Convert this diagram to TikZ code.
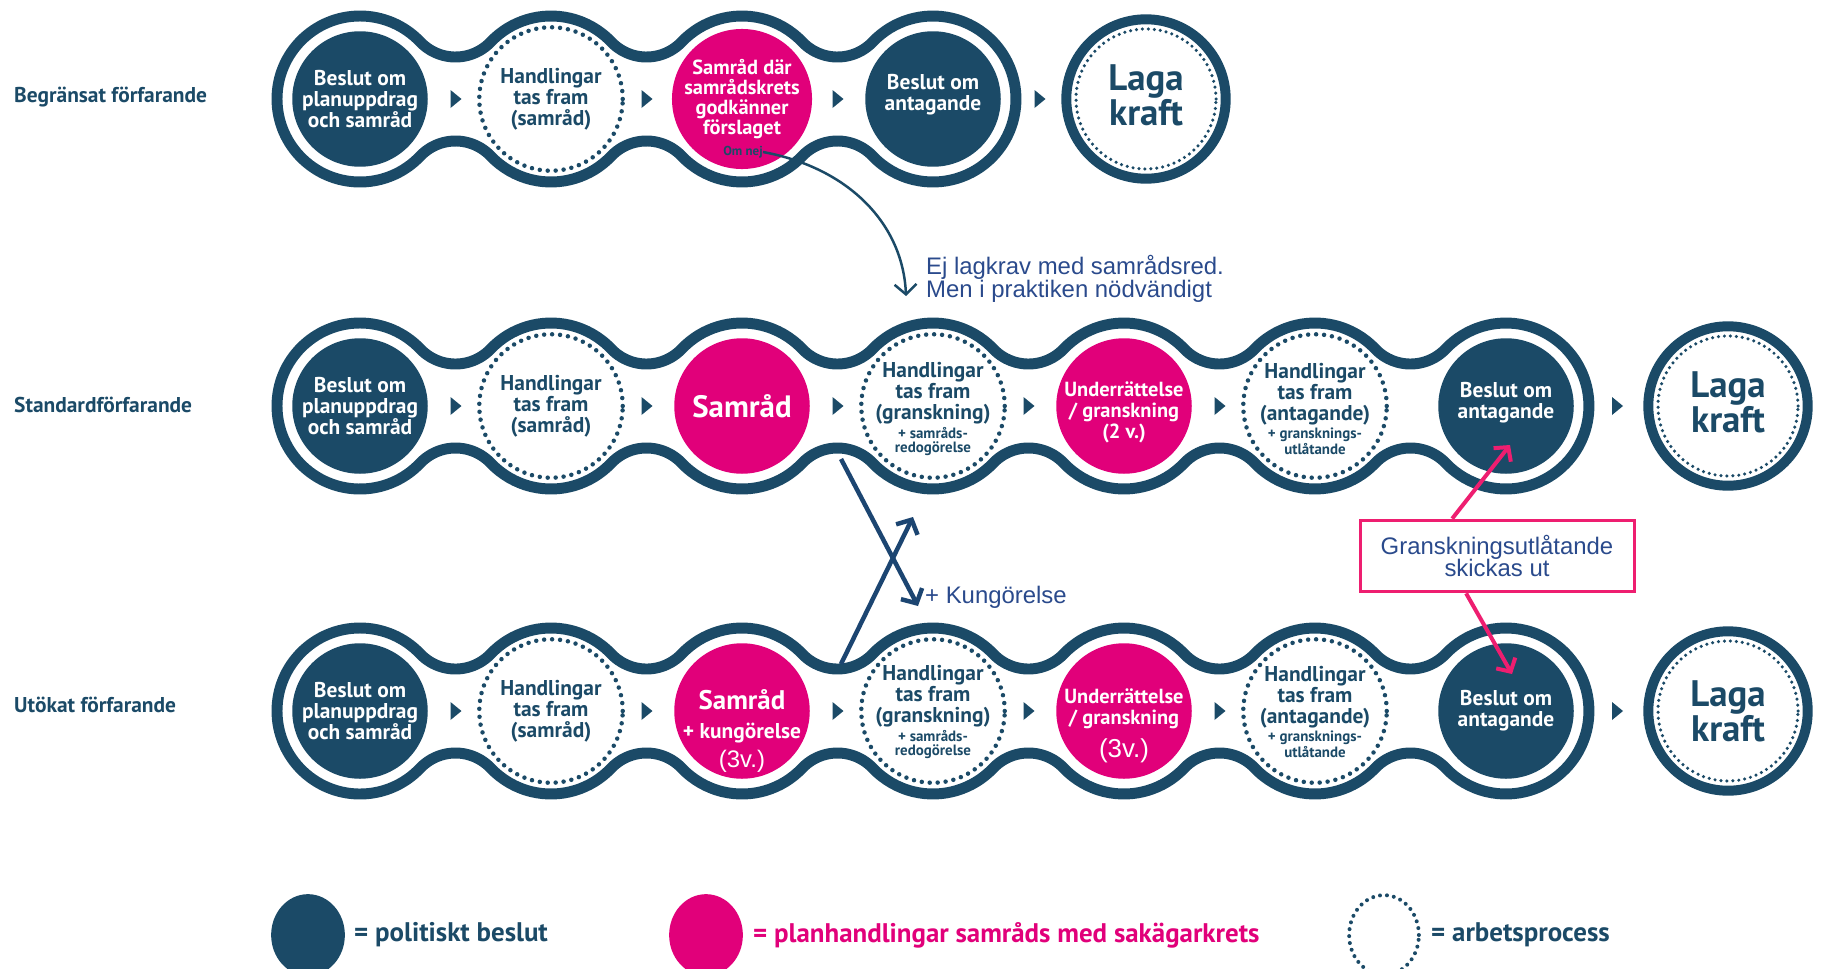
\documentclass[tikz,border=0pt]{standalone}
\usepackage{fontspec}
\setmainfont{PT Sans}
\newfontfamily\arialf{Liberation Sans}
\usetikzlibrary{arrows.meta,shapes.geometric}
\definecolor{darkc}{HTML}{1B4A67}
\definecolor{pinkc}{HTML}{E1007A}
\definecolor{apink}{HTML}{EE1E70}
\definecolor{annob}{HTML}{2A4A8C}
\definecolor{crossb}{HTML}{1C4571}
\newcommand{\fs}[2]{\fontsize{#1}{#2}\selectfont}
\newcommand{\tri}[2]{\fill[darkc] (#1-5,#2+9) -- (#1+6,#2) -- (#1-5,#2-9) -- cycle;}
\newcommand{\chainrow}[3]{%
  \draw[chainline] (#1-\RR,#2) arc[start angle=180,end angle=\th,radius=\RR]
    \foreach \k in {2,...,#3}{ arc[start angle=-180+\th,end angle=-\th,radius=\rf] arc[start angle=180-\th,end angle=\th,radius=\RR] }
    arc[start angle=\th,end angle=-\th,radius=\RR]
    \foreach \k in {2,...,#3}{ arc[start angle=-\th,end angle=-180+\th,radius=\RR] arc[start angle=\th,end angle=180-\th,radius=\rf] }
    arc[start angle=-\th,end angle=-180,radius=\RR] -- cycle;}
\begin{document}
\begin{tikzpicture}[x=1bp,y=1bp,
  chainline/.style={draw=darkc, line width=11},
  dnode/.style={circle, fill=darkc, minimum size=136, inner sep=0, text=white, align=center, font=\bfseries\fs{21.5}{21}},
  pnode/.style={dnode, fill=pinkc},
  wnode/.style={circle, draw=darkc, line width=4.5, dash pattern=on 0pt off 8pt, line cap=round, minimum size=144, inner sep=0, text=darkc, align=center, font=\bfseries\fs{21.5}{21}},
  laganode/.style={circle, draw=darkc, line width=10, minimum size=160, inner sep=0, text=darkc, align=center, font=\bfseries\fs{37}{35}},
  lagadots/.style={draw=darkc, line width=3.5, dash pattern=on 0pt off 6pt, line cap=round},
  small/.style={},
  txt/.style={inner sep=0, align=center},
  rowlabel/.style={anchor=west, inner sep=0, text=darkc, font=\bfseries\fs{21.5}{23}},
  anno/.style={inner sep=0, text=annob, font=\arialf\fs{24}{23}, align=left},
  omarrow/.style={draw=darkc, line width=2.5, -{Straight Barb[length=10pt,width=22pt]}},
  crossarr/.style={draw=crossb, line width=4.5, -{Straight Barb[length=11pt,width=24pt]}},
  pinkarr/.style={draw=apink, line width=4, -{Straight Barb[length=10pt,width=22pt]}},
  gboxst/.style={draw=apink, line width=3, fill=white, minimum width=275, minimum height=72, inner sep=0, align=center, text=annob, font=\arialf\fs{24}{23}},
  legtext/.style={anchor=west, inner sep=0, font=\bfseries\fs{27}{29}},
]
\fill[white] (0,0) rectangle (1821,-968);
\useasboundingbox (0,0) rectangle (1821,-968);
\pgfmathsetmacro\RR{83}
\pgfmathsetmacro\dd{191}
\pgfmathsetmacro\hh{42}
\pgfmathsetmacro\rf{((\dd/2)^2+\hh^2-\RR^2)/(2*(\RR-\hh))}
\pgfmathsetmacro\th{atan2(\hh+\rf,\dd/2)}

% row labels
\node[rowlabel] (lab1) at (14,-97) {Begränsat förfarande};
\node[rowlabel] (lab2) at (14,-405) {Standardförfarande};
\node[rowlabel] (lab3) at (14,-705) {Utökat förfarande};

% ---------- row 1
\chainrow{360}{-99}{4}
\node[dnode] (r1a) at (360,-99) {Beslut om\\planuppdrag\\och samråd};
\node[wnode] (r1b) at (551,-99) {Handlingar\\tas fram\\(samråd)};
\node[pnode, font=\bfseries\fs{20.5}{20}] (r1c) at (742,-99) {Samråd där\\samrådskrets\\godkänner\\förslaget};
\node[txt, text=darkc, font=\bfseries\fs{13}{14}] (omnej) at (743,-152) {Om nej};
\node[dnode] (r1d) at (933,-99) {};
\node[txt, text=white, font=\bfseries\fs{21.5}{21}] (t1d) at (933,-95) {Beslut om\\antagande};
\node[laganode] (r1e) at (1146,-99) {};
\node[txt, text=darkc, font=\bfseries\fs{37}{35}] (t1e) at (1146,-95) {Laga\\kraft};
\draw[lagadots] (r1e) circle[radius=70];
\tri{455.5}{-99}\tri{646.5}{-99}\tri{837.5}{-99}\tri{1039.5}{-99}

% ---------- row 2
\chainrow{360}{-406}{7}
\node[dnode] (r2a) at (360,-406) {Beslut om\\planuppdrag\\och samråd};
\node[wnode] (r2b) at (551,-406) {Handlingar\\tas fram\\(samråd)};
\node[pnode, font=\bfseries\fs{31}{32}] (r2c) at (742,-406) {Samråd};
\node[wnode] (r2d) at (933,-406) {};
\node[txt, text=darkc, font=\bfseries\fs{21.5}{21}] (t2d) at (933,-409) {Handlingar\\tas fram\\(granskning)\\[-2pt]{\fs{15}{15}+ samråds-}\\[-7pt]{\fs{15}{15}redogörelse}};
\node[pnode] (r2e) at (1124,-406) {};
\node[txt, text=white, font=\bfseries\fs{20.5}{21}] (t2e) at (1124,-412) {Underrättelse\\/ granskning\\(2 v.)};
\node[wnode] (r2f) at (1315,-406) {};
\node[txt, text=darkc, font=\bfseries\fs{21.5}{21}] (t2f) at (1315,-409) {Handlingar\\tas fram\\(antagande)\\[-2pt]{\fs{15}{15}+ gransknings-}\\[-5pt]{\fs{15}{15}utlåtande}};
\node[dnode] (r2g) at (1506,-406) {};
\node[txt, text=white, font=\bfseries\fs{21.5}{21}] (t2g) at (1506,-403) {Beslut om\\antagande};
\node[laganode] (r2h) at (1728,-406) {};
\node[txt, text=darkc, font=\bfseries\fs{37}{35}] (t2h) at (1728,-402) {Laga\\kraft};
\draw[lagadots] (r2h) circle[radius=70];
\tri{455.5}{-406}\tri{646.5}{-406}\tri{837.5}{-406}\tri{1028.5}{-406}\tri{1219.5}{-406}\tri{1617}{-406}

% ---------- row 3
\chainrow{360}{-711}{7}
\node[dnode] (r3a) at (360,-711) {Beslut om\\planuppdrag\\och samråd};
\node[wnode] (r3b) at (551,-711) {Handlingar\\tas fram\\(samråd)};
\node[pnode] (r3c) at (742,-711) {};
\node[txt, text=white, font=\bfseries\fs{20}{29}] (t3c) at (742,-731) {{\fs{27}{29}Samråd}\\{\fs{21.5}{22}+ kungörelse}\\{\arialf\mdseries\fs{24}{24}(3v.)}};
\node[wnode] (r3d) at (933,-711) {};
\node[txt, text=darkc, font=\bfseries\fs{21.5}{21}] (t3d) at (933,-712) {Handlingar\\tas fram\\(granskning)\\[-2pt]{\fs{15}{15}+ samråds-}\\[-7pt]{\fs{15}{15}redogörelse}};
\node[pnode] (r3e) at (1124,-711) {};
\node[txt, text=white, font=\bfseries\fs{20.5}{21}] (t3e) at (1124,-726) {Underrättelse\\/ granskning\\[9pt]{\arialf\mdseries\fs{26}{26}(3v.)}};
\node[wnode] (r3f) at (1315,-711) {};
\node[txt, text=darkc, font=\bfseries\fs{21.5}{21}] (t3f) at (1315,-712) {Handlingar\\tas fram\\(antagande)\\[-2pt]{\fs{15}{15}+ gransknings-}\\[-5pt]{\fs{15}{15}utlåtande}};
\node[dnode] (r3g) at (1506,-711) {Beslut om\\antagande};
\node[laganode] (r3h) at (1728,-711) {Laga\\kraft};
\draw[lagadots] (r3h) circle[radius=70];
\tri{455.5}{-711}\tri{646.5}{-711}\tri{837.5}{-711}\tri{1028.5}{-711}\tri{1219.5}{-711}\tri{1617}{-711}

% ---------- annotations
\coordinate (ejtip) at (906,-296);
\draw[omarrow] (omnej.east) .. controls (850,-168) and (903,-225) .. (ejtip);
\node[anno, anchor=west] (ejtxt) at (926,-279) {Ej lagkrav med samrådsred.\\Men i praktiken nödvändigt};

\coordinate (ca1) at (841,-459);
\coordinate (ca2) at (918,-606);
\coordinate (cb1) at (841,-664);
\coordinate (cb2) at (913,-517);
\draw[crossarr] (ca1) -- (ca2);
\draw[crossarr] (cb1) -- (cb2);
\node[anno, anchor=west] (kung) at (925,-597) {+ Kungörelse};

\node[gboxst] (gbox) at (1497,-556) {Granskningsutlåtande\\skickas ut};
\coordinate (pu) at (1510,-445);
\coordinate (pd) at (1512,-674);
\draw[pinkarr] ([xshift=-45]gbox.north) -- (pu);
\draw[pinkarr] ([xshift=-31]gbox.south) -- (pd);

% ---------- legend
\node[ellipse, fill=darkc, minimum width=74, minimum height=82, inner sep=0] (lg1) at (308,-935) {};
\node[legtext, text=darkc] (lt1) at (354,-935) {= politiskt beslut};
\node[ellipse, fill=pinkc, minimum width=74, minimum height=82, inner sep=0] (lg2) at (706,-935) {};
\node[legtext, text=pinkc] (lt2) at (753,-935) {= planhandlingar samråds med sakägarkrets};
\node[ellipse, draw=darkc, line width=4, dash pattern=on 0pt off 7pt, line cap=round, minimum width=70, minimum height=80, inner sep=0] (lg3) at (1384,-935) {};
\node[legtext, text=darkc] (lt3) at (1431,-935) {= arbetsprocess};
\end{tikzpicture}
\end{document}
